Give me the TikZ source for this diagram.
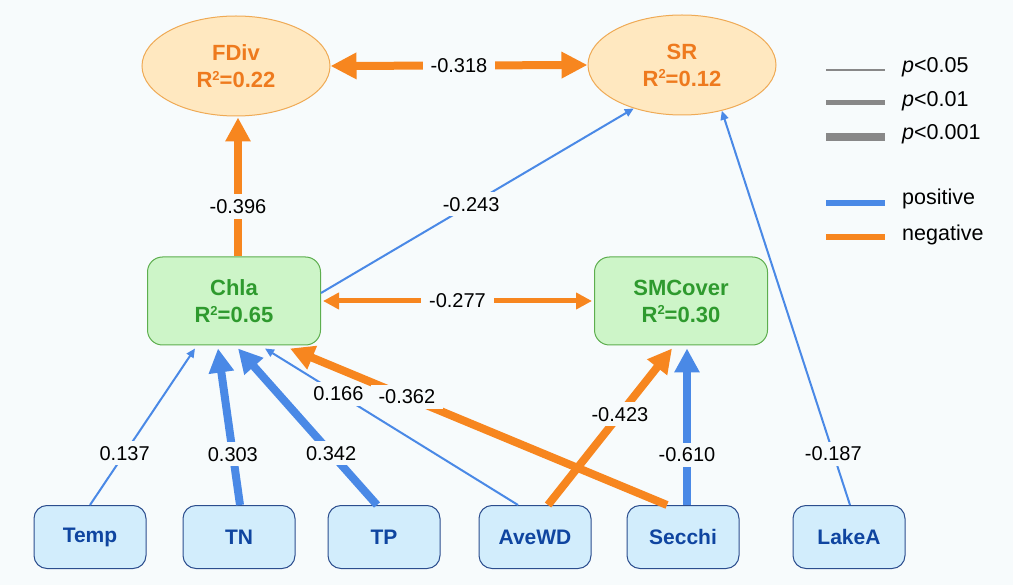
\documentclass[tikz,border=0pt]{standalone}
\usepackage{fontspec}
\setmainfont{Liberation Sans}
\usetikzlibrary{arrows.meta,shapes.geometric}
\definecolor{bg}{HTML}{F7FBFC}
\definecolor{poscol}{HTML}{4A89E6}
\definecolor{negcol}{HTML}{F7861F}
\definecolor{ellfill}{HTML}{FFE8C0}
\definecolor{elldraw}{HTML}{EFAA55}
\definecolor{elltext}{HTML}{EE7A1E}
\definecolor{grfill}{HTML}{CDF5C8}
\definecolor{grdraw}{HTML}{5DAE4E}
\definecolor{grtext}{HTML}{2E9A2E}
\definecolor{blfill}{HTML}{D2EDFC}
\definecolor{bldraw}{HTML}{2C4E8E}
\definecolor{bltext}{HTML}{0F45A0}
\definecolor{legcol}{HTML}{888888}
\newcommand{\sqr}{\raisebox{0.62ex}{\fontsize{13}{13}\selectfont 2}}
\tikzset{
  resp/.style={ellipse, draw=elldraw, fill=ellfill, line width=1pt, minimum width=188pt, minimum height=100pt, inner sep=0pt, text=elltext, font=\fontsize{22}{27}\selectfont\bfseries, align=center},
  med/.style={rounded corners=15pt, draw=grdraw, fill=grfill, line width=1pt, minimum width=173pt, minimum height=88pt, inner sep=0pt, text=grtext, font=\fontsize{22}{27}\selectfont\bfseries, align=center},
  pred/.style={rounded corners=13pt, draw=bldraw, fill=blfill, line width=1pt, minimum width=112pt, minimum height=63pt, inner sep=0pt, text=bltext, font=\fontsize{21}{25}\selectfont\bfseries},
  lbl/.style={fill=bg, inner xsep=8pt, inner ysep=5pt, text=black, font=\fontsize{20}{24}\selectfont},
  thinarr/.style={line width=2pt, -{Triangle[length=9pt,width=8pt]}},
  midboth/.style={line width=5pt, {Triangle[length=16pt,width=16pt]}-{Triangle[length=16pt,width=16pt]}},
  thickarr/.style={line width=8pt, -{Triangle[length=24pt,width=24pt]}},
  thickboth/.style={line width=8pt, {Triangle[length=26pt,width=25pt]}-{Triangle[length=26pt,width=25pt]}},
  legtxt/.style={anchor=west, inner sep=0pt, font=\fontsize{21.5}{25}\selectfont},
}
\begin{document}
\begin{tikzpicture}[x=1pt,y=-1pt]
\fill[bg] (0,0) rectangle (1013,585);
\useasboundingbox (0,0) rectangle (1013,585);

% nodes
\node[resp] (fdiv) at (236,66) {FDiv\\R\sqr=0.22};
\node[resp] (sr) at (682,65) {SR\\R\sqr=0.12};
\node[med] (chla) at (234,301) {Chla\\R\sqr=0.65};
\node[med] (smc) at (681,301) {SMCover\\R\sqr=0.30};
\node[pred] (temp) at (90,537) {Temp};
\node[pred] (tn) at (239,537) {TN};
\node[pred] (tp) at (384,537) {TP};
\node[pred] (avewd) at (535,537) {AveWD};
\node[pred] (secchi) at (683,537) {Secchi};
\node[pred] (lakea) at (849,537) {LakeA};

% edges
\draw[negcol, thickboth] (fdiv.east) -- node[lbl] {-0.318} (sr.west);
\draw[negcol, thickarr] ([xshift=4pt]chla.north) -- node[lbl, pos=0.36] {-0.396} ([xshift=2pt,yshift=-1pt]fdiv.south);
\draw[poscol, thinarr] ([yshift=8pt]chla.east) -- node[lbl, pos=0.48] {-0.243} (sr.222);
\draw[negcol, midboth] ([xshift=2pt]chla.east) -- node[lbl] {-0.277} ([xshift=-2pt]smc.west);
\draw[poscol, thinarr] (temp.north) -- node[lbl, pos=0.33] {0.137} ([xshift=-39pt,yshift=-3pt]chla.south);
\draw[poscol, thickarr] ([xshift=1pt]tn.north) -- node[lbl, pos=0.325] {0.303} ([xshift=-16pt,yshift=-3pt]chla.south);
\draw[poscol, thickarr] ([xshift=-7pt]tp.north) -- node[lbl, pos=0.33] {0.342} ([xshift=4pt,yshift=-3pt]chla.south);
\draw[poscol, thinarr] ([xshift=-17pt]avewd.north) -- node[lbl, pos=0.71] {0.166} ([xshift=31pt,yshift=-3pt]chla.south);
\draw[negcol, thickarr] ([xshift=-16pt]secchi.north) -- node[lbl, pos=0.69] {-0.362} ([xshift=56pt,yshift=-3pt]chla.south);
\draw[negcol, thickarr] ([xshift=13pt]avewd.north) -- node[lbl, pos=0.58] {-0.423} ([xshift=-9pt,yshift=-3pt]smc.south);
\draw[poscol, thickarr] ([xshift=4pt]secchi.north) -- node[lbl, pos=0.32] {-0.610} ([xshift=6pt,yshift=-3pt]smc.south);
\draw[poscol, thinarr] ([xshift=1pt]lakea.north) -- node[lbl, pos=0.13] {-0.187} (sr.311);

% legend
\draw[legcol, line width=2pt] (826,70) -- (885,70);
\draw[legcol, line width=5pt] (826,103) -- (885,103);
\draw[legcol, line width=7.5pt] (826,137) -- (885,137);
\draw[poscol, line width=5.5pt] (826,203) -- (885,203);
\draw[negcol, line width=5.5pt] (826,237) -- (885,237);
\node[legtxt] (l1) at (902,67) {\textit{p}<0.05};
\node[legtxt] (l2) at (902,101) {\textit{p}<0.01};
\node[legtxt] (l3) at (902,134) {\textit{p}<0.001};
\node[legtxt] (l4) at (902,199) {positive};
\node[legtxt] (l5) at (902,235) {negative};
\end{tikzpicture}
\end{document}
